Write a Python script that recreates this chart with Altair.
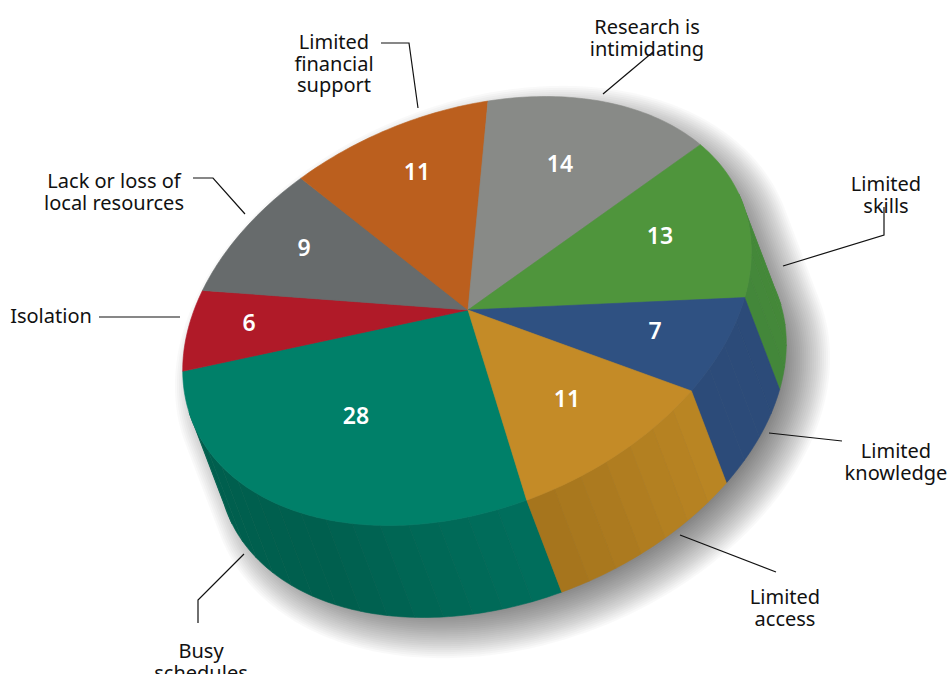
import math
import altair as alt

# Share of responses per barrier, clockwise from "Busy schedules"
categories = ["Busy\nschedules", "Isolation", "Lack or loss of\nlocal resources",
              "Limited\nfinancial\nsupport", "Research is\nintimidating",
              "Limited\nskills", "Limited\nknowledge", "Limited\naccess"]
values = [28, 6, 9, 11, 14, 13, 7, 11]

top_colors = ["#008069", "#b01a28", "#676b6c", "#bb5f1e", "#888a87", "#4f953c", "#2f5182", "#c48b27"]
side_start = ["#006f5d", "#8a1420", "#505455", "#934a17", "#6b6d6a", "#468b38", "#2c4b79", "#bb8624"]
side_end = ["#005f4e", "#8a1420", "#505455", "#934a17", "#6b6d6a", "#43873a", "#2c4b79", "#a4741c"]
side_knee = [0.45, 1, 1, 1, 1, 1, 1, 1]

# Geometry of the tilted disc, in page pixels
APEX = (468, 310)
CX, CY = 467, 311
A, B = 296, 198
TILT = math.radians(-22)
DEPTH = (35, 92)
START = 93.0


def ell(t_deg, a=A, b=B, dx=0.0, dy=0.0):
    t = math.radians(t_deg)
    x, y = a * math.cos(t), b * math.sin(t)
    return [CX + dx + x * math.cos(TILT) - y * math.sin(TILT),
            CY + dy + x * math.sin(TILT) + y * math.cos(TILT)]


def feature(points, fill, closed=True):
    if closed:
        geometry = {"type": "Polygon", "coordinates": [points + [points[0]]]}
    else:
        geometry = {"type": "LineString", "coordinates": points}
    return {"type": "Feature", "geometry": geometry, "properties": {"fill": fill}}


def mix(c1, c2, s):
    p = [int(c1[i:i + 2], 16) for i in (1, 3, 5)]
    q = [int(c2[i:i + 2], 16) for i in (1, 3, 5)]
    return "#" + "".join(f"{round(u + (v - u) * s):02x}" for u, v in zip(p, q))


# The side wall is seen where the outward normal faces the extrusion direction
lx = DEPTH[0] * math.cos(TILT) + DEPTH[1] * math.sin(TILT)
ly = -DEPTH[0] * math.sin(TILT) + DEPTH[1] * math.cos(TILT)
FACING = math.degrees(math.atan2(ly / B, lx / A))


def arc(t0, t1, **kw):
    n = max(2, int(abs(t1 - t0)) + 1)
    return [ell(t0 + (t1 - t0) * i / n, **kw) for i in range(n + 1)]


def silhouette(grow=0.0, dx=0.0, dy=0.0):
    a, b = A + grow, B + grow
    front = arc(FACING - 90, FACING + 90, a=a, b=b, dx=dx + DEPTH[0], dy=dy + DEPTH[1])
    back = arc(FACING + 90, FACING + 270, a=a, b=b, dx=dx, dy=dy)
    return front + back


# Soft drop shadow built from stacked translucent outlines
shadow = [feature(silhouette(grow=-22 + 2.0 * k, dx=18, dy=15), "#000000") for k in range(25)]

# Slices: walls first, then the top faces
total = sum(values)
edges = [START]
for v in values:
    edges.append(edges[-1] + 360 * v / total)

walls, tops = [], []
for i, v in enumerate(values):
    t0, t1 = edges[i], edges[i + 1]
    steps = max(1, round((t1 - t0) / 6))
    for k in range(steps):
        u0 = t0 + (t1 - t0) * k / steps
        u1 = t0 + (t1 - t0) * (k + 1) / steps
        mid = (u0 + u1) / 2
        off = (mid - FACING + 180) % 360 - 180
        if abs(off) >= 90:
            continue
        s = min(1.0, ((mid - t0) / (t1 - t0)) / side_knee[i])
        color = mix(side_start[i], side_end[i], s)
        near = arc(u0, u1)
        far = arc(u1, u0, dx=DEPTH[0], dy=DEPTH[1])
        walls.append(feature(near + far, color))
    tops.append(feature([list(APEX)] + arc(t0, t1), top_colors[i]))

# Leader lines from labels to slices
leaders = [
    [[381, 43], [409, 43], [418, 108]],
    [[603, 94], [653, 52]],
    [[884, 207], [884, 235], [783, 266]],
    [[769, 433], [842, 441]],
    [[680, 535], [776, 572]],
    [[244, 554], [198, 600], [198, 623]],
    [[99, 317], [180, 317]],
    [[193, 178], [213, 178], [245, 214]],
]
leader_features = [feature(p, "#000000", closed=False) for p in leaders]

label_spots = [(201, 652), (51, 317), (114, 182), (334, 43), (647, 28), (886, 185), (896, 452), (785, 598)]
value_spots = [(356, 417), (249, 324), (304, 249), (417, 173), (560, 165), (660, 237), (655, 332), (567, 400)]

projection = dict(type="identity", scale=1, translate=[0, 0])


def geo_layer(features, **mark):
    return alt.Chart(alt.Data(values={"type": "FeatureCollection", "features": features},
                              format=alt.DataFormat(type="json", property="features"))
                     ).mark_geoshape(**mark).project(**projection)


shadow_layer = geo_layer(shadow, fill="#000000", fillOpacity=0.022, strokeOpacity=0)
solid_layer = geo_layer(walls + tops, strokeWidth=0.6).encode(
    fill=alt.Fill("properties.fill:N", scale=None),
    stroke=alt.Stroke("properties.fill:N", scale=None),
)
leader_layer = geo_layer(leader_features, filled=False, stroke="#111111", strokeWidth=1.2)

label_layer = alt.Chart(alt.Data(values=[{"text": t, "px": p[0], "py": p[1]}
                                         for t, p in zip(categories, label_spots)])).mark_text(
    font="Noto Sans", fontSize=20, color="#111111", align="center", baseline="middle",
    lineBreak="\n", lineHeight=21.5
).encode(longitude="px:Q", latitude="py:Q", text="text:N").project(**projection)

value_layer = alt.Chart(alt.Data(values=[{"text": str(v), "px": p[0], "py": p[1]}
                                         for v, p in zip(values, value_spots)])).mark_text(
    font="Noto Sans", fontSize=23, fontWeight=600, color="#ffffff", align="center", baseline="middle"
).encode(longitude="px:Q", latitude="py:Q", text="text:N").project(**projection)

chart = alt.layer(shadow_layer, solid_layer, leader_layer, label_layer, value_layer).properties(
    width=950, height=674, padding=0, autosize=alt.AutoSizeParams(type="none"), background="#ffffff"
).configure_view(stroke=None)

chart.save("out.html", embed_options={"renderer": "svg", "actions": False})
